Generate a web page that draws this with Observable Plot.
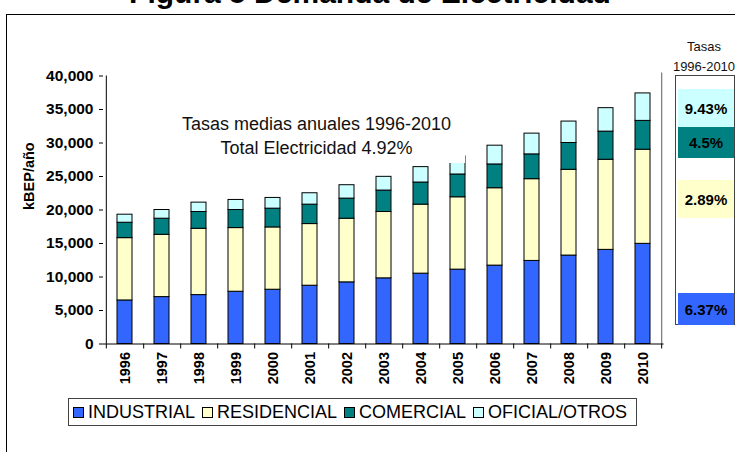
<!DOCTYPE html>
<html>
<head>
<meta charset="utf-8">
<script src="https://cdn.jsdelivr.net/npm/d3@7"></script>
<script src="https://cdn.jsdelivr.net/npm/@observablehq/plot@0.6"></script>
<style>
  html, body { margin: 0; padding: 0; background: #fff; }
  body { width: 735px; height: 452px; overflow: hidden; position: relative; font-family: "Liberation Sans", Arial, sans-serif; }
  #title { position: absolute; left: 10px; width: 720px; top: -22px; line-height: 30px; text-align: center; font-weight: bold; font-size: 30px; color: #000; white-space: nowrap; }
  #frame { position: absolute; left: 6px; top: 14px; width: 740px; height: 460px; border-left: 1.5px solid #000; border-top: 1.5px solid #000; }
  #chart { position: absolute; left: 0; top: 0; }
  #note { position: absolute; left: 168px; top: 104px; width: 297px; height: 59px; box-sizing: border-box; padding-top: 8px; background: #fff; text-align: center; font-size: 18px; line-height: 24px; color: #111; }
  #legend { position: absolute; left: 68px; top: 398px; width: 569px; height: 28px; border: 1px solid #444; box-sizing: border-box; display: flex; align-items: center; padding-left: 4px; font-size: 18px; white-space: nowrap; }
  #legend .item { display: flex; align-items: center; margin-right: 7px; }
  #legend .sw { width: 9px; height: 9px; border: 1px solid #000; margin-right: 4px; }
  #rates-head { position: absolute; left: 669px; width: 70px; top: 37px; text-align: center; font-size: 13px; line-height: 20px; color: #111; white-space: nowrap; }
  #rates { position: absolute; left: 675px; top: 75px; width: 60px; height: 250px; border: 1px solid #444; box-sizing: border-box; }
  #rates .cell { position: absolute; left: 2px; right: 0; display: flex; align-items: center; justify-content: center; font-weight: bold; font-size: 15px; color: #000; }
</style>
</head>
<body>
<div id="title">Figura 5 Demanda de Electricidad</div>
<div id="frame"></div>
<div id="chart"></div>
<div id="note">Tasas medias anuales 1996-2010<br>Total Electricidad 4.92%</div>
<div id="legend"></div>
<div id="rates-head">Tasas<br>1996-2010</div>
<div id="rates"></div>
<script>
// Demanda de electricidad por sector, kBEP/año
const years = ["1996","1997","1998","1999","2000","2001","2002","2003","2004","2005","2006","2007","2008","2009","2010"];
const sectors = ["INDUSTRIAL","RESIDENCIAL","COMERCIAL","OFICIAL/OTROS"];
const industrial  = [6500, 7000, 7300, 7800, 8100, 8700, 9200, 9800, 10500, 11100, 11700, 12400, 13200, 14050, 14950];
const residencial = [9300, 9300, 9900, 9500, 9300, 9200, 9500, 9900, 10300, 10800, 11550, 12200, 12800, 13450, 14050];
const comercial   = [2300, 2400, 2500, 2700, 2800, 2900, 3000, 3200, 3300, 3400, 3550, 3700, 4000, 4200, 4300];
const oficial     = [1200, 1300, 1400, 1500, 1600, 1700, 2000, 2050, 2300, 2700, 2800, 3100, 3200, 3500, 4100];
const colors = ["#3366ff", "#ffffcc", "#008080", "#ccffff"];
const yTicks = [0, 5000, 10000, 15000, 20000, 25000, 30000, 35000, 40000];
// Tasas medias anuales 1996-2010 por sector
const rateLabels = ["9.43%", "4.5%", "2.89%", "6.37%"];
const rateColors = ["#ccffff", "#008080", "#ffffcc", "#3366ff"];

const series = [industrial, residencial, comercial, oficial];
const rows = [];
years.forEach((y, i) => sectors.forEach((s, k) => rows.push({year: y, sector: s, value: series[k][i]})));

const W = 735, H = 400, mL = 103, mR = 71.5, mT = 75.5, mB = 56.5;
const step = (W - mL - mR) / years.length;
const axisFont = {fontSize: 14.5, fontWeight: "bold", fill: "#000"};

const chart = Plot.plot({
  width: W,
  height: H,
  marginLeft: mL,
  marginRight: mR,
  marginTop: mT,
  marginBottom: mB,
  style: {fontFamily: "Liberation Sans, Arial, sans-serif", background: "transparent", overflow: "visible"},
  x: {domain: years, paddingInner: 0.6, paddingOuter: 0.3, align: 0.5, label: null},
  y: {domain: [0, 40000], label: null},
  color: {domain: sectors, range: colors},
  marks: [
    Plot.barY(rows, {x: "year", y: "value", fill: "sector", z: "sector", order: sectors, stroke: "#000", strokeWidth: 1}),
    // right edge of the plotting area
    Plot.ruleX([years[years.length - 1]], {x: d => d, dx: step / 2, y1: 0, y2: 40450, stroke: "#777", strokeWidth: 1.2}),
    // left axis
    Plot.axisY({ticks: yTicks, tickSize: 4, tickPadding: 6, tickFormat: d3.format(","), ...axisFont, fontSize: 15.5, label: null}),
    Plot.ruleX([years[0]], {x: d => d, dx: -step / 2, y1: 0, y2: 40000, stroke: "#000"}),
    // category axis: labels at band centres, tick marks between bands
    Plot.axisX({tickSize: 0, tickPadding: 8, tickRotate: -90, ...axisFont, label: null}),
    Plot.axisX({tickSize: 5, text: null, dx: step / 2, stroke: "#000", label: null}),
    Plot.axisX({ticks: [years[0]], tickSize: 5, text: null, dx: -step / 2, stroke: "#000", label: null}),
    Plot.ruleY([0], {stroke: "#000"}),
    Plot.text(["kBEP/año"], {frameAnchor: "left", dx: -74, rotate: -90, fontSize: 14.5, fontWeight: "bold", fill: "#000"})
  ]
});
document.getElementById("chart").appendChild(chart);

// legend
const legend = document.getElementById("legend");
sectors.forEach((s, k) => {
  const it = document.createElement("div");
  it.className = "item";
  it.innerHTML = `<span class="sw" style="background:${colors[k]}"></span>${s}`;
  legend.appendChild(it);
});

// rate boxes
const rates = document.getElementById("rates");
const cellTops = [13, 51, 104, 217];
const cellH = [38, 31, 38, 32];
rateLabels.forEach((t, k) => {
  const c = document.createElement("div");
  c.className = "cell";
  c.style.top = cellTops[k] + "px";
  c.style.height = cellH[k] + "px";
  c.style.background = rateColors[k];
  c.textContent = t;
  rates.appendChild(c);
});
</script>
</body>
</html>
